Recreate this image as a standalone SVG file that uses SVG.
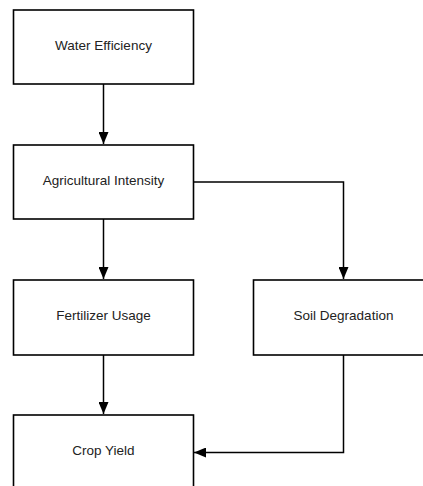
<svg xmlns="http://www.w3.org/2000/svg" width="423" height="486" viewBox="0 0 423 486">
<style>
.box{fill:#fff;stroke:#000;stroke-width:1.6}
.lbl{font-family:"Liberation Sans",Arial,sans-serif;font-size:13.5px;fill:#222;text-anchor:middle;dominant-baseline:central}
.edge{fill:none;stroke:#000;stroke-width:1.5}
</style>
<defs>
<marker id="arr" viewBox="0 0 12 10" refX="12" refY="5" markerWidth="12" markerHeight="10" markerUnits="userSpaceOnUse" orient="auto">
<path d="M0,0 L12,5 L0,10 Z" fill="#000"/>
</marker>
</defs>
<rect width="423" height="486" fill="#fff"/>
<g id="connectors">
<path class="edge" d="M103.5,84 V144" marker-end="url(#arr)"/>
<path class="edge" d="M103.5,219 V279" marker-end="url(#arr)"/>
<path class="edge" d="M193.5,182 H343.5 V279" marker-end="url(#arr)"/>
<path class="edge" d="M103.5,355 V414" marker-end="url(#arr)"/>
<path class="edge" d="M343.5,355 V452.5 H194" marker-end="url(#arr)"/>
</g>
<g id="water-efficiency">
<rect class="box" x="13.5" y="10" width="180" height="74"/>
<text class="lbl" x="103.5" y="45.5">Water Efficiency</text>
</g>
<g id="agricultural-intensity">
<rect class="box" x="13.5" y="145" width="180" height="74"/>
<text class="lbl" x="103.5" y="180.5">Agricultural Intensity</text>
</g>
<g id="fertilizer-usage">
<rect class="box" x="13.5" y="280" width="180" height="75"/>
<text class="lbl" x="103.5" y="315.5">Fertilizer Usage</text>
</g>
<g id="soil-degradation">
<rect class="box" x="253.5" y="280" width="180" height="75"/>
<text class="lbl" x="343.5" y="315.5">Soil Degradation</text>
</g>
<g id="crop-yield">
<rect class="box" x="13.5" y="415" width="180" height="75"/>
<text class="lbl" x="103.5" y="450.5">Crop Yield</text>
</g>
</svg>
